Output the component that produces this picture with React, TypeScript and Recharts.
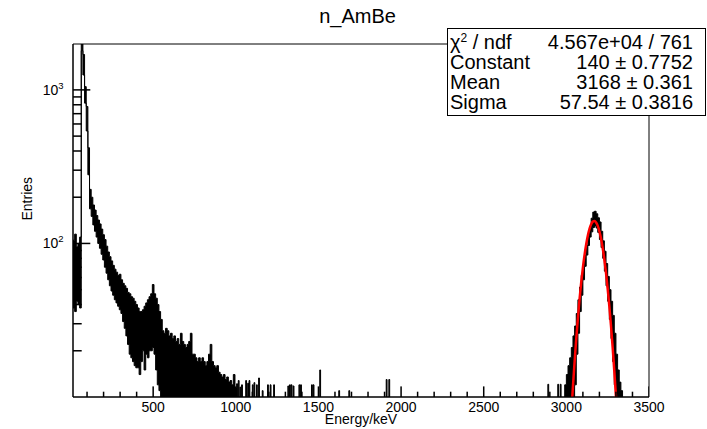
import React from "react"
import { ComposedChart, Area, Line, Scatter, XAxis, YAxis, ReferenceArea } from "recharts"

// low-energy part of the spectrum, 10 keV bins (left edge) - lower / upper edge of the error band
const lowE = [
  15, 25, 35, 45, 55, 65, 75, 85, 95, 105, 115, 125, 135, 145, 155, 165, 175, 185, 195, 205,
  215, 225, 235, 245, 255, 265, 275, 285, 295, 305, 315, 325, 335, 345, 355, 365, 375, 385, 395, 405,
  415, 425, 435, 445, 455, 465, 475, 485, 495, 505, 515, 525, 535, 545, 555, 565, 575, 585, 595, 605,
  615, 625, 635, 645, 655, 665, 675, 685, 695, 705, 715, 725, 735, 745, 755, 765, 775, 785, 795, 805,
  815, 825, 835, 845, 855, 865, 875, 885, 895, 905, 915, 925, 935, 945, 955, 965, 975, 985, 995,
]
const lowHi = [
  105, 115, 95, 100, 110, 2600, 1700, 1050, 780, 420, 225, 200, 178, 165, 152, 142, 134, 124, 114, 106,
  96, 88, 82, 77, 72, 68, 65, 62, 63, 58, 55, 53, 51, 48, 47, 45, 44, 42, 40, 38,
  36, 36, 37, 39, 41, 43, 45, 47, 54, 47, 44, 40, 36, 32, 27, 26, 28, 27, 25, 26,
  24, 25, 23, 24, 22, 26, 23, 22, 21, 22, 23, 26, 19, 19, 18, 17, 18, 17, 18, 17,
  16, 17, 19, 22, 17, 16, 15.5, 16, 14.5, 14, 13.5, 14, 13, 13.5, 12.5, 12.8, 12, 14, 11.5,
]
const lowLo = [
  38, 36, 42, 40, 38, 1800, 1250, 820, 540, 280, 168, 150, 132, 120, 110, 100, 93, 85, 78, 70,
  64, 58, 53, 49, 46, 43, 41, 39, 37, 35, 31, 28, 25, 22, 19, 18, 17, 16, 15.5, 15.5,
  14, 17, 20, 15, 19, 18, 20, 20, 21, 19, 15, 12, 11, 1, 1, 1, 1, 1, 1, 1,
  1, 1, 1, 1, 1, 1, 1, 1, 1, 1, 1, 1, 1, 1, 1, 1, 1, 1, 1, 1,
  1, 1, 1, 1, 1, 1, 1, 1, 1, 1, 1, 1, 1, 1, 1, 1, 1, 1, 1,
]

// isolated single-bin entries above 1 MeV
const spikeE = [
  1005, 1015, 1025, 1035, 1060, 1072, 1080, 1100, 1110, 1125, 1138, 1160, 1192, 1208, 1229,
  1315, 1325, 1335, 1347, 1382, 1392, 1458, 1468, 1508, 1623, 1684, 1910, 1926, 2888, 2948, 2963,
]
const spikeN = [
  12.2, 12.8, 11.6, 12, 12.8, 12.3, 12.8, 12, 12.4, 12, 13.3, 11, 12, 12, 12,
  11.8, 12, 12, 11.8, 12, 12, 12, 12, 15, 11, 11, 13, 13, 12.1, 12.1, 12.1,
]

// full-energy peak, 10 keV bins (left edge)
const peakE = [
  2990, 3000, 3010, 3020, 3030, 3040, 3050, 3060, 3070, 3080, 3090, 3100, 3110, 3120, 3130, 3140, 3150,
  3160, 3170, 3180, 3190, 3200, 3210, 3220, 3230, 3240, 3250, 3260, 3270, 3280, 3290, 3300, 3310, 3320, 3330,
]
const peakHi = [
  12, 14, 16, 18, 21, 25, 29, 35, 43, 52, 62, 70, 84, 97, 112, 127, 146,
  160, 162, 156, 147, 138, 120, 104, 89, 74, 61, 50, 42, 34, 26, 19, 15, 12.5, 11,
]
const peakLo = [
  1, 1, 1, 1, 1, 1, 12, 19, 26, 36, 46, 58, 71, 84, 97, 110, 119,
  127, 130, 126, 118, 106, 94, 80, 66, 53, 42, 32, 24, 17, 12, 1, 1, 1, 1,
]

// gaussian fit curve (red)
const fitE = [
  3020, 3030, 3040, 3050, 3060, 3070, 3080, 3090, 3100, 3110, 3120, 3130, 3140, 3150, 3160, 3170,
  3180, 3190, 3200, 3210, 3220, 3230, 3240, 3250, 3260, 3270, 3280, 3290, 3300, 3310, 3320,
]
const fitY = [
  5.1, 7.9, 11.8, 17.1, 24.1, 32.8, 43.5, 55.9, 69.6, 84.2, 98.8, 112.6, 124.4, 133.3, 138.7, 139.9,
  137.0, 130.1, 119.9, 107.3, 93.1, 78.3, 64.0, 50.7, 39.0, 29.1, 21.1, 14.8, 10.1, 6.7, 4.3,
]

const xMajorTicks = [500, 1000, 1500, 2000, 2500, 3000, 3500]
const xMinorTicks = [
  100, 200, 300, 400, 600, 700, 800, 900, 1100, 1200, 1300, 1400, 1600, 1700, 1800, 1900,
  2100, 2200, 2300, 2400, 2600, 2700, 2800, 2900, 3100, 3200, 3300, 3400,
]
const yMajorTicks = [100, 1000]
const yMinorTicks = [20, 30, 40, 50, 60, 70, 80, 90, 200, 300, 400, 500, 600, 700, 800, 900]
const yExponents: Record<number, string> = { 100: "2", 1000: "3" }

const statNames = ["Constant", "Mean", "Sigma"]
const statValues = ["4.567e+04 / 761", "140 \u00b1 0.7752", "3168 \u00b1 0.361", "57.54 \u00b1 0.3816"]

const X_DOMAIN: [number, number] = [15, 3500]
const Y_DOMAIN: [number, number] = [10, 1990]
const EMPTY = 1 // below the visible range

type Row = { e: number; h?: number[]; fit?: number }

function buildRows(): Row[] {
  const m = new Map<number, Row>()
  const at = (e: number) => {
    let r = m.get(e)
    if (!r) {
      r = { e }
      m.set(e, r)
    }
    return r
  }
  lowE.forEach((e, i) => (at(e).h = [lowLo[i], lowHi[i]]))
  spikeE.forEach((e, i) => {
    at(e).h = [EMPTY, spikeN[i]]
    at(e + 5).h = [EMPTY, EMPTY]
  })
  peakE.forEach((e, i) => (at(e).h = [peakLo[i], peakHi[i]]))
  at(peakE[peakE.length - 1] + 10).h = [EMPTY, EMPTY]
  fitE.forEach((e, i) => (at(e).fit = fitY[i]))
  return [...m.values()].sort((a, b) => a.e - b.e)
}

const data = buildRows()

// tick marks sit on the frame edges (bottom edge for x, left edge for y)
const xMajorRows = xMajorTicks.map((e) => ({ e, t: Y_DOMAIN[0] }))
const xMinorRows = xMinorTicks.map((e) => ({ e, t: Y_DOMAIN[0] }))
const yMajorRows = yMajorTicks.map((t) => ({ e: X_DOMAIN[0], t }))
const yMinorRows = yMinorTicks.map((t) => ({ e: X_DOMAIN[0], t }))

// ROOT draws ticks inwards; major ones twice as long
const vTick = (len: number) => (p: any) =>
  <rect x={p.cx - 0.75} y={p.cy - len} width={1.5} height={len} fill="#000" />
const hTick = (len: number) => (p: any) =>
  <rect x={p.cx} y={p.cy - 0.75} width={len} height={1.5} fill="#000" />

const XLabel = ({ x, y, payload }: any) => (
  <text x={x} y={Number(y) + 14.7} textAnchor="middle" fontSize={14} fill="#000">
    {payload.value}
  </text>
)

const YLabel = ({ x, y, payload }: any) => (
  <text x={Number(x) - 9.5} y={Number(y) + 5} textAnchor="end" fontSize={14} fill="#000">
    10
    <tspan dy={-6} fontSize={9.5}>
      {yExponents[payload.value]}
    </tspan>
  </text>
)

const rowStyle: React.CSSProperties = {
  display: "flex",
  justifyContent: "space-between",
  height: 20,
  lineHeight: "20px",
  fontSize: 20,
  padding: "0 12px 0 2px",
}

export default function App() {
  return (
    <div
      style={{
        position: "absolute",
        left: 0,
        top: 0,
        width: 707,
        height: 429,
        background: "#fff",
        fontFamily: "'Liberation Sans', Arial, sans-serif",
        color: "#000",
      }}
    >
      <ComposedChart width={707} height={429} data={data} margin={{ top: 44, right: 58, bottom: 0, left: 0 }}>
        <XAxis
          type="number"
          dataKey="e"
          domain={X_DOMAIN}
          allowDataOverflow
          ticks={xMajorTicks}
          interval={0}
          tick={<XLabel />}
          tickLine={false}
          tickSize={0}
          tickMargin={0}
          height={32}
          axisLine={{ stroke: "#000" }}
          label={{ value: "Energy/keV", position: "insideBottom", offset: 5, fontSize: 14, fill: "#000" }}
        />
        <YAxis
          type="number"
          scale="log"
          domain={Y_DOMAIN}
          allowDataOverflow
          ticks={yMajorTicks}
          interval={0}
          tick={<YLabel />}
          tickLine={false}
          tickSize={0}
          tickMargin={0}
          width={73}
          axisLine={{ stroke: "#000" }}
          label={{ value: "Entries", angle: -90, position: "insideLeft", offset: 27, fontSize: 14, fill: "#000" }}
        />
        <ReferenceArea
          x1={X_DOMAIN[0]}
          x2={X_DOMAIN[1]}
          y1={Y_DOMAIN[0]}
          y2={Y_DOMAIN[1]}
          fill="none"
          stroke="#000"
          strokeWidth={1}
          ifOverflow="visible"
        />
        <Area
          dataKey="h"
          type="stepAfter"
          stroke="#000"
          strokeWidth={1}
          fill="#000"
          fillOpacity={1}
          connectNulls={false}
          dot={false}
          activeDot={false}
          isAnimationActive={false}
        />
        <Line
          dataKey="fit"
          type="monotone"
          stroke="#ff0000"
          strokeWidth={2.5}
          dot={false}
          activeDot={false}
          connectNulls
          isAnimationActive={false}
        />
        <Scatter data={xMajorRows} dataKey="t" shape={vTick(10.6)} isAnimationActive={false} />
        <Scatter data={xMinorRows} dataKey="t" shape={vTick(5.3)} isAnimationActive={false} />
        <Scatter data={yMajorRows} dataKey="t" shape={hTick(17.3)} isAnimationActive={false} />
        <Scatter data={yMinorRows} dataKey="t" shape={hTick(8.7)} isAnimationActive={false} />
      </ComposedChart>
      <div
        style={{
          position: "absolute",
          left: 257.5,
          top: 6,
          width: 200,
          textAlign: "center",
          fontSize: 20,
          lineHeight: "20px",
        }}
      >
        n_AmBe
      </div>
      <div
        style={{
          position: "absolute",
          left: 447,
          top: 28,
          width: 259,
          height: 88,
          boxSizing: "border-box",
          border: "1px solid #000",
          background: "#fff",
          paddingTop: 3,
        }}
      >
        <div style={rowStyle}>
          <span>
            {"\u03c7"}
            <span style={{ fontSize: 12, position: "relative", top: -7 }}>2</span>
            {" / ndf"}
          </span>
          <span>{statValues[0]}</span>
        </div>
        {statNames.map((name, i) => (
          <div key={name} style={rowStyle}>
            <span>{name}</span>
            <span>{statValues[i + 1]}</span>
          </div>
        ))}
      </div>
    </div>
  )
}
